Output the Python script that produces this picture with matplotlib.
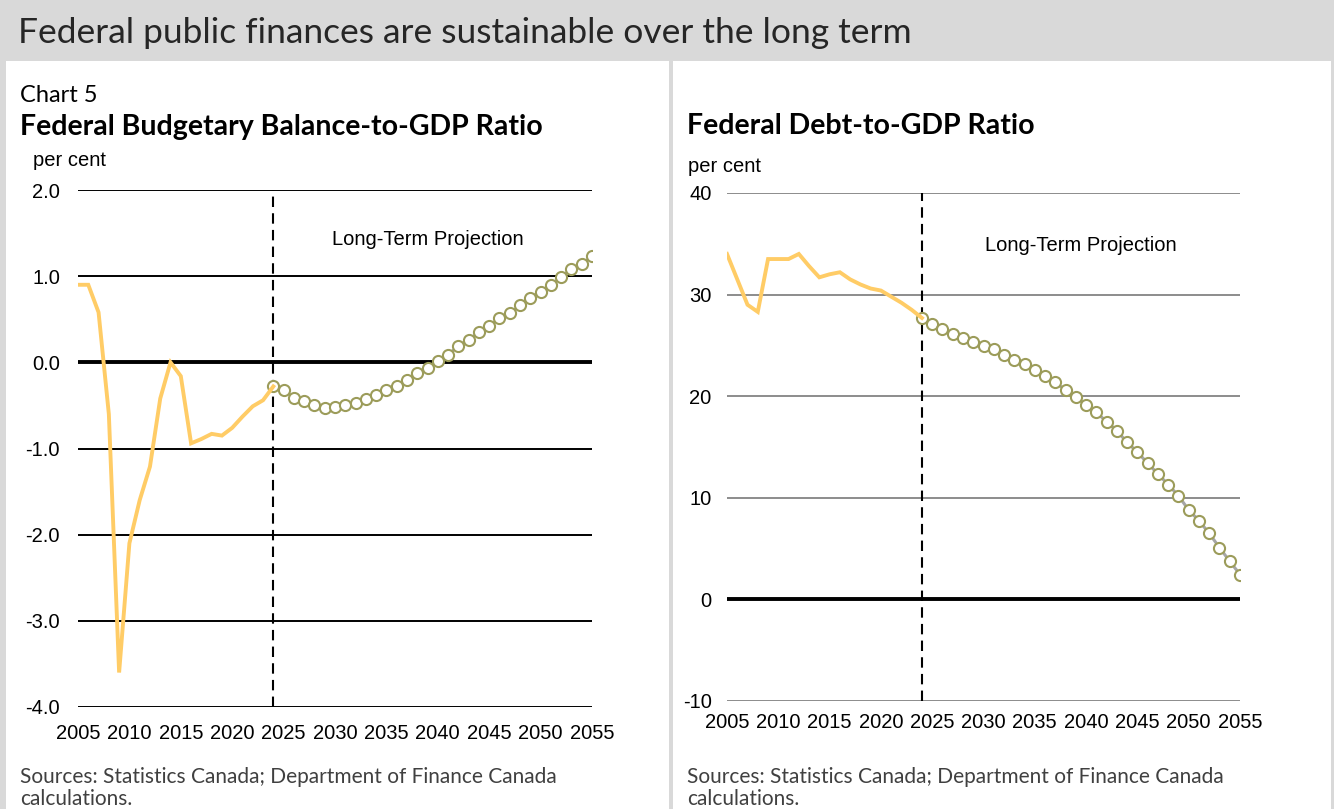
import numpy as np
import matplotlib
matplotlib.use("Agg")
import matplotlib.pyplot as plt
from matplotlib.patches import Rectangle

# ---- data -------------------------------------------------------------
hist_years = list(range(2005, 2025))
proj_years = list(range(2024, 2056))

balance_hist = [0.90, 0.90, 0.58, -0.60, -3.60, -2.10, -1.60, -1.21, -0.42, 0.00,
                -0.16, -0.94, -0.89, -0.83, -0.85, -0.76, -0.63, -0.51, -0.44, -0.28]
balance_proj = [-0.28, -0.32, -0.41, -0.45, -0.50, -0.53, -0.52, -0.49, -0.47, -0.43,
                -0.38, -0.32, -0.28, -0.21, -0.12, -0.06, 0.02, 0.09, 0.19, 0.26,
                0.35, 0.42, 0.51, 0.57, 0.66, 0.75, 0.82, 0.90, 0.99, 1.08,
                1.14, 1.23]

debt_hist = [34.0, 31.5, 29.0, 28.3, 33.5, 33.5, 33.5, 34.0, 32.8, 31.7,
             32.0, 32.2, 31.5, 31.0, 30.6, 30.4, 29.8, 29.2, 28.5, 27.7]
debt_proj = [27.7, 27.1, 26.6, 26.1, 25.7, 25.3, 24.95, 24.6, 24.1, 23.6,
             23.15, 22.6, 22.0, 21.35, 20.6, 19.9, 19.15, 18.4, 17.5, 16.6,
             15.45, 14.5, 13.4, 12.35, 11.3, 10.2, 8.8, 7.75, 6.5, 5.1,
             3.75, 2.45]

x_ticks = list(range(2005, 2056, 5))
balance_ticks = [2.0, 1.0, 0.0, -1.0, -2.0, -3.0, -4.0]
debt_ticks = [40, 30, 20, 10, 0, -10]
projection_start = 2024

# ---- styling ----------------------------------------------------------
W, H = 1334, 809
HIST_COLOR = "#ffcc66"
PROJ_EDGE = "#9c9c5a"
PROJ_LINE = "#a6a6a6"
FRAME = "#d9d9d9"
HEAD_FONT = ["Lato", "DejaVu Sans"]
AXIS_FONT = ["Liberation Sans", "DejaVu Sans"]
AXIS_SIZE = 14.5

fig = plt.figure(figsize=(W / 100, H / 100), dpi=100)
fig.patch.set_facecolor("white")


def px_rect(x0, y0, x1, y1):
    """Convert a pixel box (top-left origin) into figure fractions."""
    return [x0 / W, 1 - y1 / H, (x1 - x0) / W, (y1 - y0) / H]


def frame(x0, y0, x1, y1):
    fig.add_artist(Rectangle((x0 / W, 1 - y1 / H), (x1 - x0) / W, (y1 - y0) / H,
                             transform=fig.transFigure, facecolor=FRAME,
                             edgecolor="none", zorder=0))


# page frame
frame(0, 0, W, 61)
frame(0, 61, 6, H)
frame(669, 61, 673, H)
frame(1331, 61, W, H)

fig.text(18 / W, 1 - 33 / H, "Federal public finances are sustainable over the long term",
         family=HEAD_FONT, fontsize=25.5, color="#262626",
         va="center", ha="left")


def panel(rect, hist, proj, ticks, tick_fmt, ylim, grid_color, label_pad, xpad,
          note_xy):
    ax = fig.add_axes(rect)
    ax.set_xlim(2005, 2055)
    ax.set_ylim(*ylim)
    for s in ax.spines.values():
        s.set_visible(False)
    ax.patch.set_alpha(0)
    for t in ticks:
        if t == 0:
            ax.axhline(t, color="black", lw=2.8, zorder=1)
        else:
            ax.axhline(t, color=grid_color, lw=1.4, zorder=1)
    ax.axvline(projection_start, color="black", lw=1.5, dashes=(5, 3), zorder=2)
    ax.plot(proj_years, proj, color=PROJ_LINE, lw=2.2, zorder=3,
            marker="o", markersize=8, markerfacecolor="white",
            markeredgecolor=PROJ_EDGE, markeredgewidth=1.5)
    ax.plot(hist_years, hist, color=HIST_COLOR, lw=2.8, zorder=4,
            solid_joinstyle="miter")
    ax.set_yticks(ticks)
    ax.set_yticklabels([tick_fmt(t) for t in ticks], family=AXIS_FONT,
                       fontsize=AXIS_SIZE)
    ax.set_xticks(x_ticks)
    ax.set_xticklabels([str(y) for y in x_ticks], family=AXIS_FONT,
                       fontsize=AXIS_SIZE)
    ax.tick_params(axis="y", length=0, pad=label_pad)
    ax.tick_params(axis="x", length=0, pad=xpad)
    ax.text(note_xy[0], note_xy[1], "Long-Term Projection", family=AXIS_FONT,
            fontsize=AXIS_SIZE, ha="center", va="center", zorder=5)
    return ax


def notes(x):
    fig.text(x / W, 1 - 777 / H,
             "Sources: Statistics Canada; Department of Finance Canada",
             family=HEAD_FONT, fontsize=15, color="#404040", va="center")
    fig.text(x / W, 1 - 799 / H, "calculations.", family=HEAD_FONT,
             fontsize=15, color="#404040", va="center")


# left: budgetary balance
panel(px_rect(78, 190, 592, 707), balance_hist, balance_proj, balance_ticks,
      lambda v: f"{v:.1f}", (-4.0, 2.0), "black", 13, 12, (2039.0, 1.42))
fig.text(20 / W, 1 - 95 / H, "Chart 5", family=HEAD_FONT, fontsize=17, va="center")
fig.text(20 / W, 1 - 127 / H, "Federal Budgetary Balance-to-GDP Ratio",
         family=HEAD_FONT, fontsize=20.5, weight="bold", va="center")
fig.text(33 / W, 1 - 160 / H, "per cent", family=AXIS_FONT, fontsize=AXIS_SIZE,
         va="center")
notes(20)

# right: debt
panel(px_rect(727, 193, 1240, 701), debt_hist, debt_proj, debt_ticks,
      lambda v: f"{v:d}", (-10, 40), "#8c8c8c", 11, 9, (2039.5, 34.8))
fig.text(687 / W, 1 - 126 / H, "Federal Debt-to-GDP Ratio",
         family=HEAD_FONT, fontsize=20.5, weight="bold", va="center")
fig.text(688 / W, 1 - 167 / H, "per cent", family=AXIS_FONT, fontsize=AXIS_SIZE,
         va="center")
notes(687)

fig.savefig("out.png", dpi=100)
